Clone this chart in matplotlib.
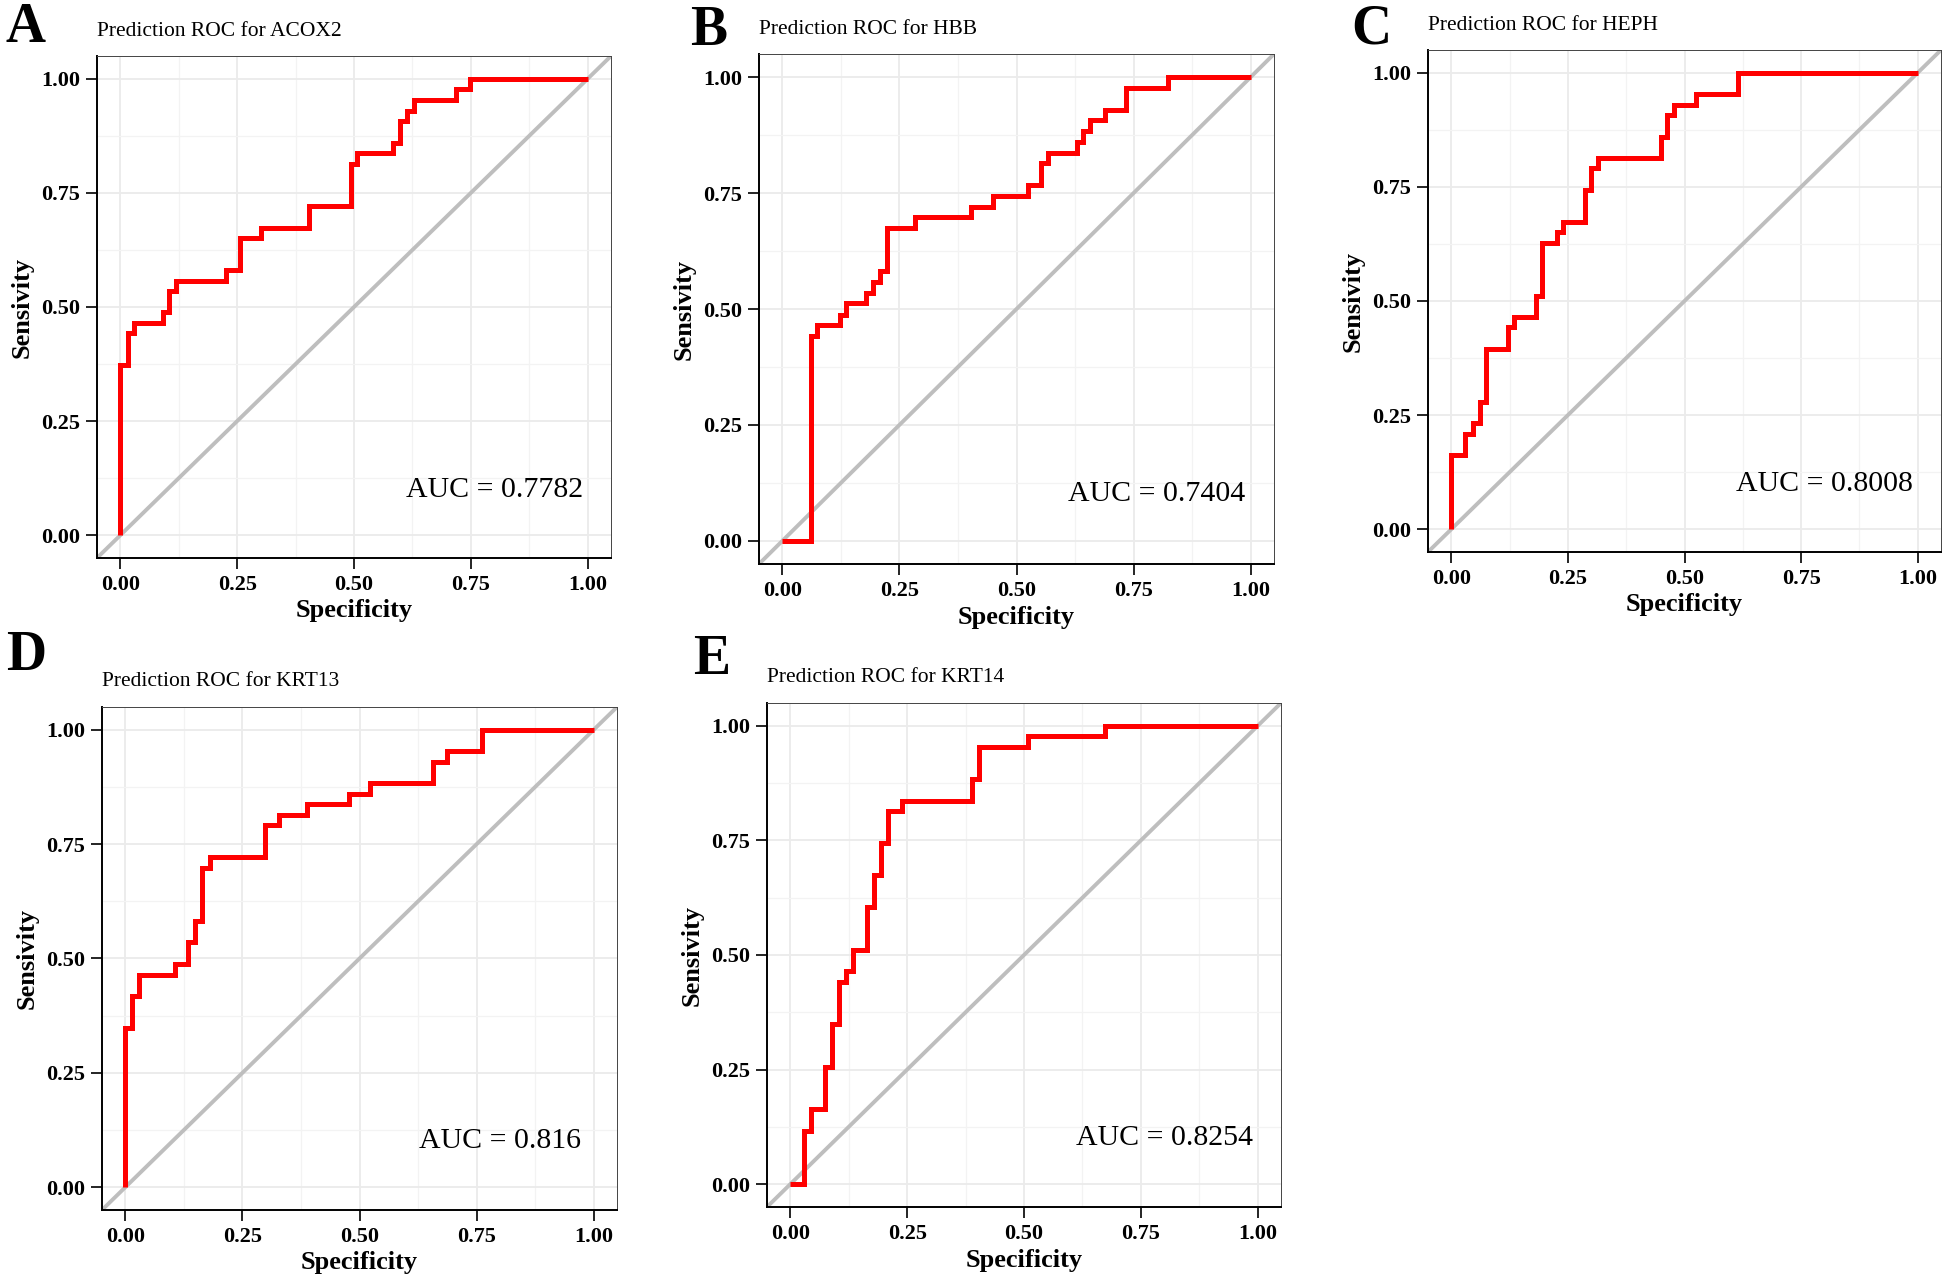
import matplotlib
matplotlib.use("Agg")
import matplotlib.pyplot as plt
from matplotlib.ticker import MultipleLocator

plt.rcParams['font.family'] = ['Liberation Serif', 'DejaVu Serif']

# ROC step points (x = jump position, y = level after the jump)
genes = ['ACOX2', 'HBB', 'HEPH', 'KRT13', 'KRT14']
letters = ['A', 'B', 'C', 'D', 'E']
auc_values = ['0.7782', '0.7404', '0.8008', '0.816', '0.8254']

a_x = [0, 0, 0.017, 0.030, 0.092, 0.105, 0.119, 0.225, 0.255, 0.300, 0.404,
       0.493, 0.506, 0.583, 0.598, 0.613, 0.629, 0.718, 0.749, 1.0]
a_y = [0, 0.372, 0.442, 0.465, 0.488, 0.535, 0.558, 0.581, 0.651, 0.674, 0.721,
       0.814, 0.837, 0.860, 0.907, 0.930, 0.953, 0.977, 1.0, 1.0]

b_x = [0, 0.060, 0.073, 0.122, 0.135, 0.179, 0.193, 0.209, 0.224, 0.283, 0.403,
       0.449, 0.524, 0.553, 0.568, 0.629, 0.643, 0.658, 0.688, 0.733, 0.823, 1.0]
b_y = [0, 0.442, 0.465, 0.488, 0.512, 0.535, 0.558, 0.581, 0.674, 0.698, 0.721,
       0.744, 0.767, 0.814, 0.837, 0.860, 0.884, 0.907, 0.930, 0.977, 1.0, 1.0]

c_x = [0, 0, 0.030, 0.046, 0.061, 0.075, 0.121, 0.135, 0.181, 0.195, 0.226,
       0.239, 0.286, 0.300, 0.315, 0.449, 0.463, 0.478, 0.524, 0.614, 1.0]
c_y = [0, 0.163, 0.209, 0.233, 0.279, 0.395, 0.442, 0.465, 0.512, 0.628, 0.651,
       0.674, 0.744, 0.791, 0.814, 0.860, 0.907, 0.930, 0.953, 1.0, 1.0]

d_x = [0, 0, 0.015, 0.030, 0.105, 0.134, 0.149, 0.164, 0.180, 0.299, 0.329,
       0.388, 0.478, 0.522, 0.657, 0.687, 0.762, 1.0]
d_y = [0, 0.349, 0.419, 0.465, 0.488, 0.535, 0.581, 0.698, 0.721, 0.791, 0.814,
       0.837, 0.860, 0.884, 0.930, 0.953, 1.0, 1.0]

e_x = [0, 0.029, 0.044, 0.074, 0.090, 0.105, 0.120, 0.134, 0.165, 0.180, 0.195,
       0.209, 0.239, 0.389, 0.403, 0.509, 0.673, 1.0]
e_y = [0, 0.116, 0.163, 0.256, 0.349, 0.442, 0.465, 0.512, 0.605, 0.674, 0.744,
       0.814, 0.837, 0.884, 0.953, 0.977, 1.0, 1.0]

curves = [(a_x, a_y), (b_x, b_y), (c_x, c_y), (d_x, d_y), (e_x, e_y)]

W, H = 1944, 1277
# panel boxes in pixels: left, top, right, bottom
boxes = [(97, 56, 611, 558), (759, 54, 1274, 564), (1428, 50, 1941, 552),
         (102, 707, 617, 1210), (767, 703, 1281, 1207)]
# panel letters: left x, centre y
letter_pos = [(5, 28), (690, 31), (1351, 30), (6, 656), (693, 660)]


def make_panel(fig, box, xs, ys, gene, auc):
    l, t, r, b = box
    ax = fig.add_axes([l / W, 1 - b / H, (r - l) / W, (b - t) / H])
    ax.set_xlim(-0.05, 1.05)
    ax.set_ylim(-0.05, 1.05)

    ax.xaxis.set_major_locator(MultipleLocator(0.25))
    ax.yaxis.set_major_locator(MultipleLocator(0.25))
    ax.xaxis.set_minor_locator(MultipleLocator(0.125))
    ax.yaxis.set_minor_locator(MultipleLocator(0.125))
    ax.grid(which='major', color='#EBEBEB', lw=1.3)
    ax.grid(which='minor', color='#F3F3F3', lw=0.9)
    ax.set_axisbelow(True)
    ax.tick_params(which='minor', length=0)
    ax.tick_params(which='major', direction='out', length=8, width=1.2,
                   pad=4, labelsize=16)
    ax.set_xticklabels([f'{v:.2f}' for v in ax.get_xticks()], fontweight='bold')
    ax.set_yticklabels([f'{v:.2f}' for v in ax.get_yticks()], fontweight='bold')

    for side in ['left', 'bottom']:
        ax.spines[side].set_linewidth(1.4)
        ax.spines[side].set_color('black')
    for side in ['top', 'right']:
        ax.spines[side].set_linewidth(0.7)
        ax.spines[side].set_color('#444444')

    ax.axline((0, 0), slope=1, color='#BEBEBE', lw=2.8, zorder=2)
    ax.step(xs, ys, where='post', color='red', lw=3.6, zorder=3,
            solid_joinstyle='miter', solid_capstyle='butt')

    ax.text(0.8, 0.1, f'AUC = {auc}', fontsize=21.5, ha='center', va='center')

    ax.set_xlabel('Specificity', fontsize=19, fontweight='bold')
    ax.set_ylabel('Sensivity', fontsize=19, fontweight='bold')
    ax.xaxis.label.set_va('center')
    ax.yaxis.label.set_va('center')
    ax.xaxis.set_label_coords(0.5, -53 / (b - t))
    ax.yaxis.set_label_coords(-75 / (r - l), 0.5)

    ax.annotate(f'Prediction ROC for {gene}', xy=(0, 1), xycoords='axes fraction',
                xytext=(0, 18), textcoords='offset points', fontsize=15.5,
                ha='left', va='center')
    return ax


def main():
    fig = plt.figure(figsize=(W / 100, H / 100), dpi=100)
    for i in range(len(genes)):
        xs, ys = curves[i]
        make_panel(fig, boxes[i], xs, ys, genes[i], auc_values[i])
        lx, ly = letter_pos[i]
        fig.text(lx / W, 1 - ly / H, letters[i], fontsize=40, fontweight='bold',
                 ha='left', va='center')
    fig.savefig('out.png', dpi=100)


if __name__ == '__main__':
    main()
